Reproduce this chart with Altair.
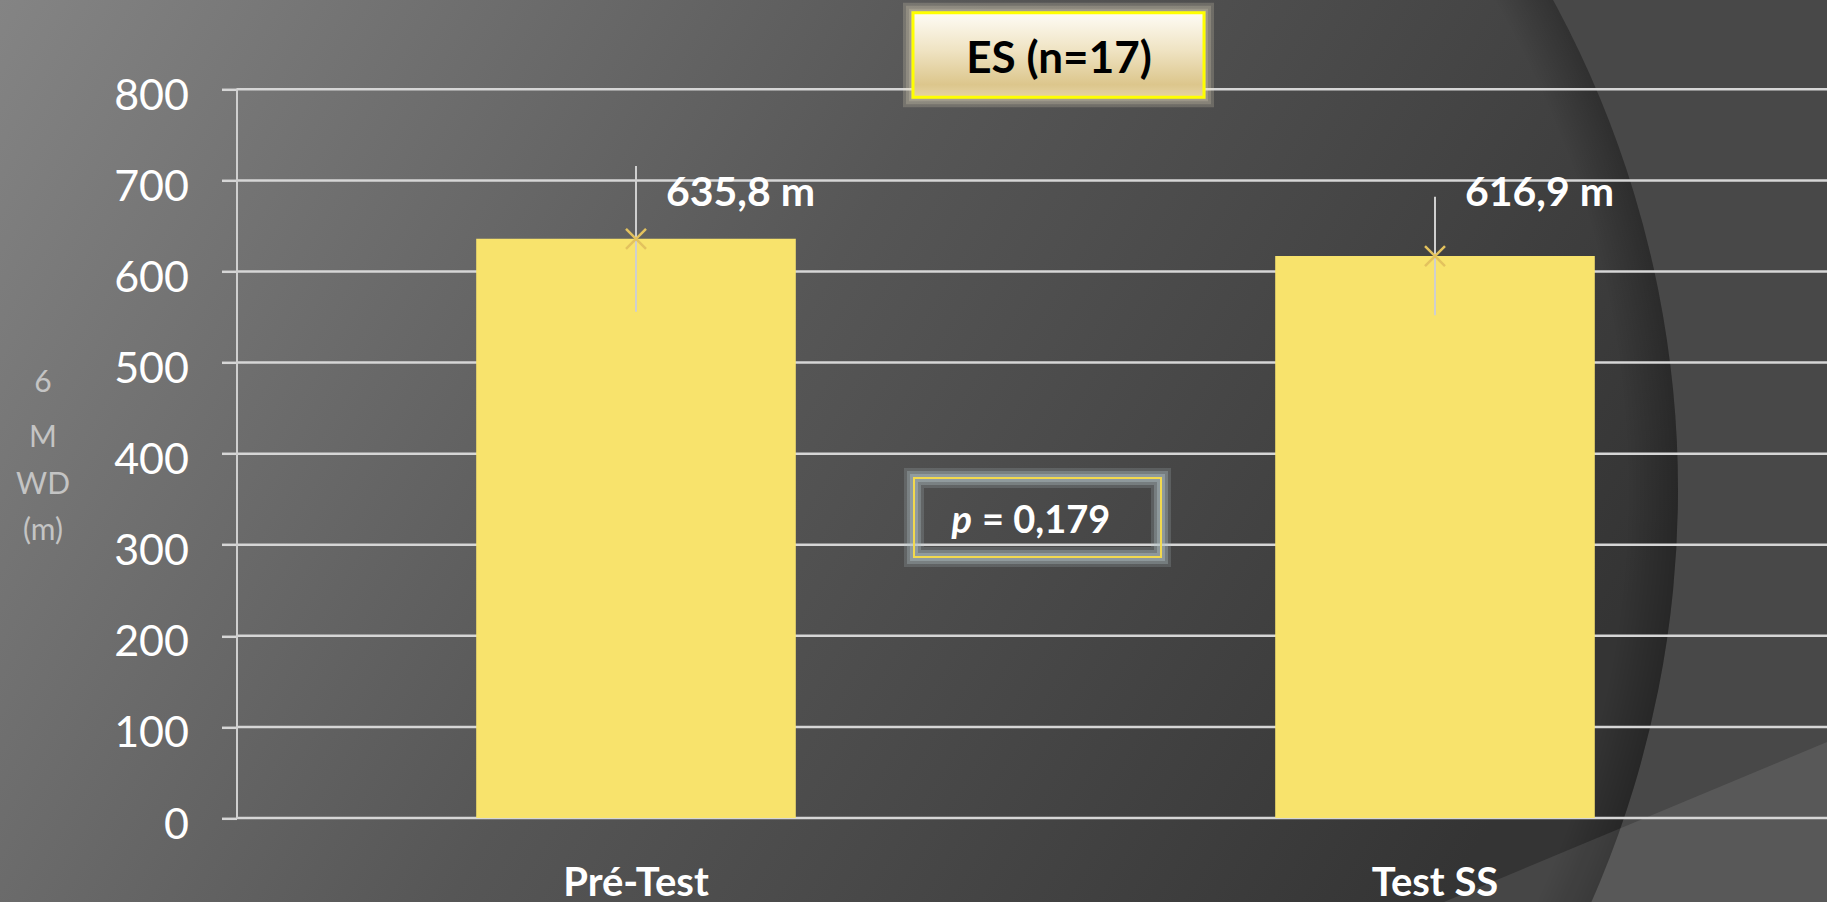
import math
import altair as alt
import pandas as pd

# ---- data ----
conditions = ["Pré-Test", "Test SS"]
mean_6mwd = [635.8, 616.9]
sd_6mwd = [80.0, 65.0]
y_ticks = [0, 100, 200, 300, 400, 500, 600, 700, 800]
title_lines = ["6", "M", "WD", "(m)"]
group_label = "ES (n=17)"
p_symbol = "p"
p_text = "= 0,179"

# ---- page geometry (pixels) ----
W, H = 1827, 902
LEFT, TOP = 236.5, 89.3
PLOT_W = W - LEFT
PLOT_H = 728.7
BOTTOM = H - TOP - PLOT_H
FONT = "Lato"

df = pd.DataFrame({"cond": conditions, "mean": mean_6mwd, "sd": sd_6mwd})
df["lo"] = df["mean"] - df["sd"]
df["hi"] = df["mean"] + df["sd"]
df["label"] = df["mean"].map(lambda v: f"{v:.1f}".replace(".", ",") + " m")

one = pd.DataFrame({"k": [0]})


def px(x):
    return x - LEFT


def py(y):
    return y - TOP


def rect(x0, y0, x1, y1, **mark):
    return alt.Chart(one).mark_rect(**mark).encode(
        x=alt.value(px(x0)), x2=alt.value(px(x1)),
        y=alt.value(py(y0)), y2=alt.value(py(y1)),
    )


# ---- slide background ----
bg_fill = {
    "gradient": "linear", "x1": 0, "y1": 0, "x2": 1, "y2": 0.3,
    "stops": [
        {"offset": 0, "color": "#848484"},
        {"offset": 0.5, "color": "#565656"},
        {"offset": 1, "color": "#343434"},
    ],
}
background = rect(0, 0, W, H, fill=bg_fill)

CX, CY, R = 655, 490, 1023
outer_ring = alt.Chart(one).mark_arc(
    radius=1400, radius2=R, theta=0, theta2=2 * math.pi, fill="#484848"
).encode(x=alt.value(px(CX)), y=alt.value(py(CY)))

shadow_fill = {
    "gradient": "radial", "x1": 0.5, "y1": 0.5, "x2": 0.5, "y2": 0.5,
    "r1": 0, "r2": 0.5,
    "stops": [
        {"offset": 0.95, "color": "rgba(0,0,0,0)"},
        {"offset": 1, "color": "rgba(0,0,0,0.25)"},
    ],
}
inner_shadow = alt.Chart(one).mark_arc(
    radius=R, radius2=960, theta=0, theta2=2 * math.pi, fill=shadow_fill
).encode(x=alt.value(px(CX)), y=alt.value(py(CY)))

wedge = alt.Chart(one).mark_point(
    shape="M-2.155,0.1 L0.3,-0.925 L0.3,0.1 Z", size=160000,
    filled=True, color="white", opacity=0.09, strokeWidth=0,
).encode(x=alt.value(px(W)), y=alt.value(py(H)))

# ---- chart ----
x_enc = alt.X(
    "cond:N", sort=conditions,
    scale=alt.Scale(paddingInner=0.6, paddingOuter=0.3, range=[0, 1598]),
    axis=alt.Axis(
        title=None, domain=False, ticks=False, tickSize=0, labelAngle=0,
        labelFont=FONT, labelFontWeight="bold", labelFontSize=40,
        labelColor="white", labelPadding=77, labelBaseline="alphabetic",
        zindex=1,
    ),
)
y_scale = alt.Scale(domain=[0, 800], nice=False, zero=True)
y_axis = alt.Axis(
    title=None, values=y_ticks, grid=False,
    domainColor="#cfcfcf", domainWidth=2,
    tickColor="#d6d6d6", tickWidth=2.5, tickSize=15,
    labelFont=FONT, labelFontSize=43, labelColor="white",
    labelPadding=33, labelBaseline="alphabetic", labelOffset=20,
    zindex=1,
)

grid = alt.Chart(pd.DataFrame({"t": y_ticks})).mark_rule(
    color="#d6d6d6", strokeWidth=2.5
).encode(
    y=alt.Y("t:Q", scale=y_scale, axis=y_axis),
    x=alt.value(0), x2=alt.value(PLOT_W),
)

base = alt.Chart(df)
bars = base.mark_bar(color="#F8E36C").encode(
    x=x_enc,
    y=alt.Y("mean:Q", scale=y_scale, axis=y_axis),
)
err = base.mark_rule(color="#cfcfcf", strokeWidth=2).encode(
    x=alt.X("cond:N", sort=conditions), y="lo:Q", y2="hi:Q"
)
marker = base.mark_point(
    shape="M-1,-1L1,1M1,-1L-1,1", size=400, filled=False,
    color="#e3c25e", strokeWidth=2.5, opacity=1,
).encode(x=alt.X("cond:N", sort=conditions), y="mean:Q")
labels = base.mark_text(
    align="left", baseline="alphabetic", dx=30, font=FONT,
    fontWeight="bold", fontSize=41, color="white",
).encode(x=alt.X("cond:N", sort=conditions), y=alt.value(py(206)), text="label:N")

# ---- group box ----
ES = (913, 12.7, 1204, 97.3)
es_fill = {
    "gradient": "linear", "x1": 0, "y1": 0, "x2": 0, "y2": 1,
    "stops": [
        {"offset": 0, "color": "#fefcf6"},
        {"offset": 0.45, "color": "#efe3c2"},
        {"offset": 0.85, "color": "#dcc68c"},
        {"offset": 1, "color": "#e6d4a4"},
    ],
}
es_layers = []
for g in (10, 7, 4, 2):
    es_layers.append(rect(ES[0] - g, ES[1] - g, ES[2] + g, ES[3] + g,
                          fill="#efe7c8", opacity=0.2))
es_layers.append(rect(*ES, fill=es_fill, stroke="#ffff00", strokeWidth=3))
es_layers.append(alt.Chart(one).mark_text(
    text=group_label, font=FONT, fontWeight="bold", fontSize=44,
    color="black", align="center", baseline="alphabetic",
).encode(x=alt.value(px(1059)), y=alt.value(py(73))))

# ---- p-value box (glow on both sides of a thin yellow frame) ----
PB = (914, 478, 1161, 557)
p_layers = []
for sw, op in ((20, 0.2), (14, 0.3), (8, 0.4)):
    p_layers.append(rect(*PB, fillOpacity=0, stroke="#b4c2c7",
                         strokeWidth=sw, strokeOpacity=op))
p_layers.append(rect(*PB, fillOpacity=0, stroke="#f2d94e", strokeWidth=2))
p_layers.append(alt.Chart(one).mark_text(
    text=p_symbol, font=FONT, fontWeight="bold", fontStyle="italic",
    fontSize=38, color="white", align="right", baseline="alphabetic",
).encode(x=alt.value(px(972)), y=alt.value(py(533))))
p_layers.append(alt.Chart(one).mark_text(
    text=p_text, font=FONT, fontWeight="bold", fontSize=38,
    color="white", align="left", baseline="alphabetic",
).encode(x=alt.value(px(982)), y=alt.value(py(533))))

# ---- y-axis title, one word per line ----
title_baselines = [392, 447, 494, 540]
title_layers = [
    alt.Chart(one).mark_text(
        text=t, font=FONT, fontSize=30, color="#c4c4c4",
        align="center", baseline="alphabetic",
    ).encode(x=alt.value(px(43)), y=alt.value(py(b)))
    for t, b in zip(title_lines, title_baselines)
]

chart = alt.layer(
    background, outer_ring, inner_shadow, wedge,
    grid, bars, err, marker, labels,
    *es_layers, *p_layers, *title_layers,
).properties(
    width=PLOT_W, height=PLOT_H,
    padding={"left": LEFT, "top": TOP, "right": 0, "bottom": BOTTOM},
    autosize=alt.AutoSizeParams(type="none"),
    background="#4a4a4a",
).configure_view(stroke=None)

chart.save("out.html", embed_options={"renderer": "svg", "actions": False})
